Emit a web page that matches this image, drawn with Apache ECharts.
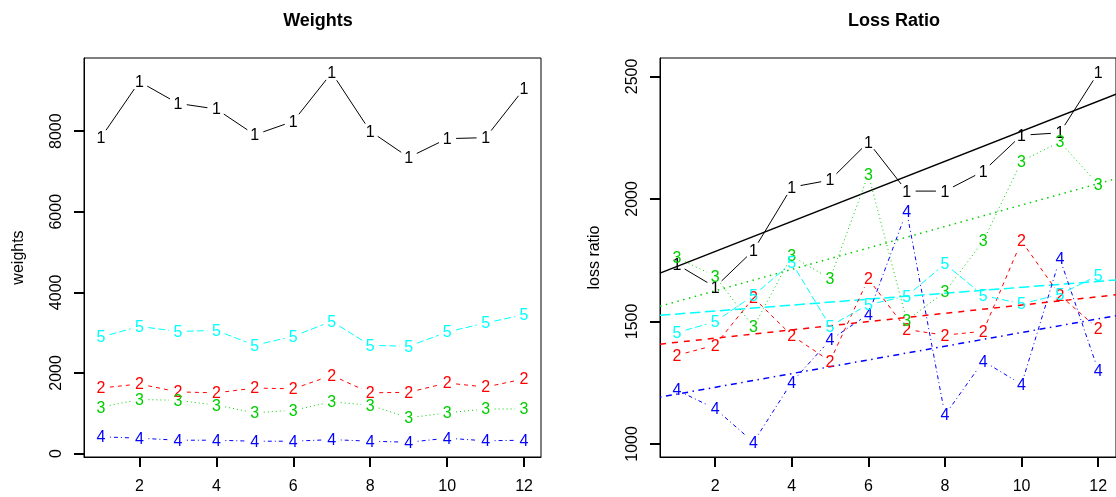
<!DOCTYPE html>
<html><head><meta charset="utf-8">
<script src="https://cdn.jsdelivr.net/npm/echarts@6/dist/echarts.min.js"></script>
<style>html,body{margin:0;padding:0;background:#fff}#c{width:1116px;height:497px}</style>
</head><body><div id="c"></div>
<script>
// ---- data ----
const xs = [1, 2, 3, 4, 5, 6, 7, 8, 9, 10, 11, 12];
const weights1 = [7840, 9230, 8690, 8550, 7910, 8245, 9450, 8000, 7350, 7815, 7840, 9055];
const weights2 = [1625, 1725, 1530, 1505, 1625, 1605, 1940, 1505, 1520, 1750, 1650, 1850];
const weights3 = [1150, 1340, 1320, 1200, 1010, 1075, 1280, 1200, 885, 1010, 1105, 1105];
const weights4 = [415, 380, 330, 330, 305, 305, 345, 305, 280, 380, 315, 330];
const weights5 = [2890, 3155, 3030, 3055, 2685, 2910, 3280, 2685, 2660, 3015, 3240, 3445];
const loss1 = [1733, 1640, 1790, 2048, 2077, 2232, 2032, 2032, 2113, 2260, 2270, 2515];
const loss2 = [1362, 1403, 1597, 1443, 1338, 1674, 1467, 1444, 1460, 1828, 1607, 1470];
const loss3 = [1760, 1685, 1477, 1767, 1674, 2100, 1504, 1621, 1828, 2154, 2233, 2059];
const loss4 = [1220, 1144, 1007, 1252, 1424, 1529, 1950, 1118, 1338, 1243, 1757, 1301];
const loss5 = [1454, 1499, 1606, 1740, 1481, 1569, 1603, 1735, 1606, 1572, 1610, 1688];
const seriesLabels = ['1', '2', '3', '4', '5'];
const xTicks = [2, 4, 6, 8, 10, 12];
const weightTicks = [0, 2000, 4000, 6000, 8000];
const lossTicks = [1000, 1500, 2000, 2500];
const titles = ['Weights', 'Loss Ratio'];
const yNames = ['weights', 'loss ratio'];

// ---- style ----
const FONT = '"Liberation Sans", Arial, Helvetica, sans-serif';
const colors = ['#000000', '#FF0000', '#00CD00', '#0000FF', '#00FFFF'];
const dashes = [null, [4, 4], [1, 3], [1, 3, 4, 3], [7, 3]];
const GAP = 9;
const REG_W = 1.5;
const FS = 16;
const TICK_LEN = 10;

const weights = [weights1, weights2, weights3, weights4, weights5];
const losses = [loss1, loss2, loss3, loss4, loss5];

function ext(arrs) {
  const all = [].concat(...arrs);
  const lo = Math.min(...all), hi = Math.max(...all), d = (hi - lo) * 0.04;
  return [lo - d, hi + d];
}
const xr = ext([xs]);
const wr = ext(weights);
const lr = ext(losses);
const xr2max = xr[0] + (xr[1] - xr[0]) * 458 / 457;

function pointSeries(gi, vals, k) {
  const n = xs.length;
  const data = xs.map((x, i) => i < n - 1 ? [x, vals[i], xs[i + 1], vals[i + 1], 1] : [x, vals[i], x, vals[i], 0]);
  return {
    type: 'custom', xAxisIndex: gi, yAxisIndex: gi, data: data, silent: true,
    encode: { x: [0, 2], y: [1, 3] },
    renderItem: function (params, api) {
      const p = api.coord([api.value(0), api.value(1)]);
      const children = [{
        type: 'text',
        style: { text: seriesLabels[k], x: p[0], y: p[1] + 1, align: 'center', verticalAlign: 'middle',
          textAlign: 'center', textVerticalAlign: 'middle', fill: colors[k], font: FS + 'px ' + FONT }
      }];
      if (api.value(4)) {
        const q = api.coord([api.value(2), api.value(3)]);
        const dx = q[0] - p[0], dy = q[1] - p[1], L = Math.hypot(dx, dy);
        if (L > 2 * GAP) {
          const ux = dx / L, uy = dy / L;
          children.push({
            type: 'line',
            shape: { x1: p[0] + ux * GAP, y1: p[1] + uy * GAP, x2: q[0] - ux * GAP, y2: q[1] - uy * GAP },
            style: { stroke: colors[k], lineWidth: 1, lineDash: dashes[k] }
          });
        }
      }
      return { type: 'group', children: children };
    }
  };
}

function regSeries(gi, vals, k, xmin, xmax) {
  const n = xs.length;
  const mx = xs.reduce((a, b) => a + b, 0) / n;
  const my = vals.reduce((a, b) => a + b, 0) / n;
  let sxy = 0, sxx = 0;
  xs.forEach((x, i) => { sxy += (x - mx) * (vals[i] - my); sxx += (x - mx) * (x - mx); });
  const b = sxy / sxx, a = my - b * mx;
  return {
    type: 'line', xAxisIndex: gi, yAxisIndex: gi, silent: true, showSymbol: false, symbol: 'none',
    data: [[xmin, a + b * xmin], [xmax, a + b * xmax]],
    lineStyle: { color: colors[k], width: REG_W, type: dashes[k] ? dashes[k].map(v => v * REG_W) : 'solid' },
    z: 1
  };
}

const grids = [
  { left: 84, top: 58, width: 457, height: 399, show: true, borderColor: '#000', borderWidth: 1 },
  { left: 660, top: 58, width: 458, height: 399, show: true, borderColor: '#000', borderWidth: 1 }
];

function xAxis(gi, max) {
  return {
    type: 'value', gridIndex: gi, min: xr[0], max: max,
    axisLine: { show: true, onZero: false, lineStyle: { color: '#000', width: 1 } },
    splitLine: { show: false },
    axisTick: { show: true, length: TICK_LEN, customValues: xTicks, lineStyle: { color: '#000', width: 2 } },
    axisLabel: { customValues: xTicks, color: '#000', fontSize: FS, fontFamily: FONT, margin: 22 }
  };
}
function yAxis(gi, r, ticks) {
  return {
    type: 'value', gridIndex: gi, min: r[0], max: r[1],
    name: yNames[gi], nameLocation: 'middle', nameGap: 57, nameRotate: 90,
    nameTextStyle: { color: '#000', fontSize: FS, fontFamily: FONT },
    axisLine: { show: true, onZero: false, lineStyle: { color: '#000', width: 1 } },
    splitLine: { show: false },
    axisTick: { show: true, length: TICK_LEN, customValues: ticks, lineStyle: { color: '#000', width: 2 } },
    axisLabel: { customValues: ticks, rotate: 90, color: '#000', fontSize: FS, fontFamily: FONT, margin: 19,
      formatter: function (v) { return String(Math.round(v)); } }
  };
}

const series = [];
weights.forEach((v, k) => series.push(pointSeries(0, v, k)));
losses.forEach((v, k) => series.push(regSeries(1, v, k, xr[0], xr2max)));
losses.forEach((v, k) => series.push(pointSeries(1, v, k)));

const option = {
  animation: false,
  title: [
    { text: titles[0], left: 313, top: 7, textAlign: 'center', textStyle: { fontSize: 18, fontWeight: 'bold', color: '#000', fontFamily: FONT } },
    { text: titles[1], left: 889, top: 7, textAlign: 'center', textStyle: { fontSize: 18, fontWeight: 'bold', color: '#000', fontFamily: FONT } }
  ],
  grid: grids,
  xAxis: [xAxis(0, xr[1]), xAxis(1, xr2max)],
  yAxis: [yAxis(0, wr, weightTicks), yAxis(1, lr, lossTicks)],
  series: series
};

const chart = echarts.init(document.getElementById('c'));
chart.setOption(option);
</script>
</body></html>
